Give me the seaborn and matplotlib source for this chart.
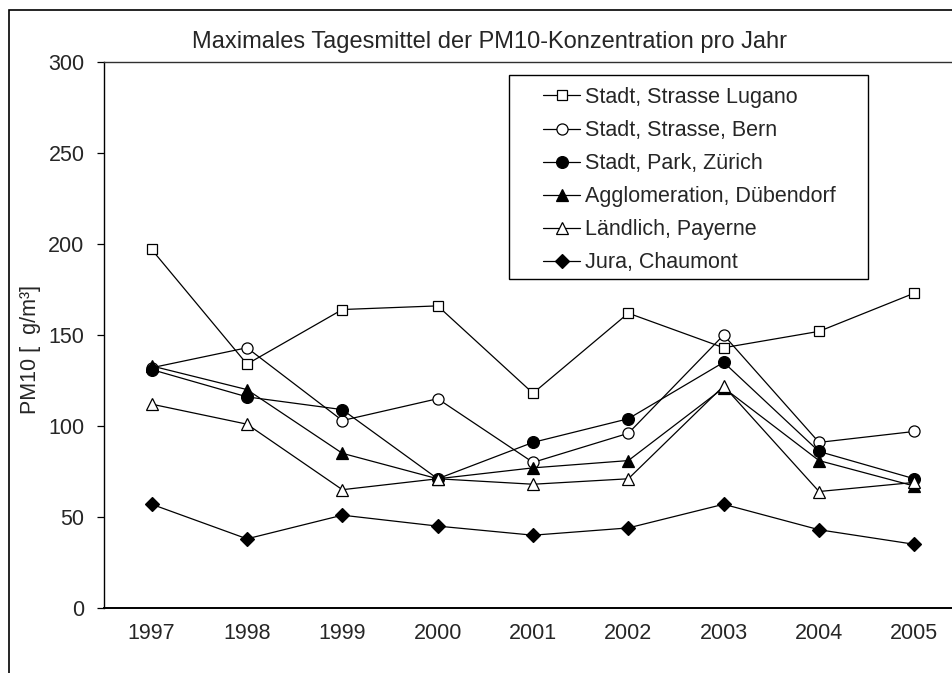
import matplotlib
matplotlib.use("Agg")
import matplotlib.pyplot as plt
import seaborn as sns
import pandas as pd
from matplotlib.patches import Rectangle

years = ["1997", "1998", "1999", "2000", "2001", "2002", "2003", "2004", "2005"]
lugano = [197, 134, 164, 166, 118, 162, 143, 152, 173]
bern = [132, 143, 103, 115, 80, 96, 150, 91, 97]
zuerich = [131, 116, 109, 71, 91, 104, 135, 86, 71]
duebendorf = [133, 120, 85, 71, 77, 81, 121, 81, 67]
payerne = [112, 101, 65, 71, 68, 71, 122, 64, 69]
chaumont = [57, 38, 51, 45, 40, 44, 57, 43, 35]

series_names = ["Stadt, Strasse Lugano", "Stadt, Strasse, Bern", "Stadt, Park, Zürich",
                "Agglomeration, Dübendorf", "Ländlich, Payerne", "Jura, Chaumont"]
series_values = [lugano, bern, zuerich, duebendorf, payerne, chaumont]
yticks = [0, 50, 100, 150, 200, 250, 300]

title = "Maximales Tagesmittel der PM10-Konzentration pro Jahr"
ylabel = "PM10 [  g/m³]"

styles = [
    dict(marker="s", markerfacecolor="white", markersize=7.5),
    dict(marker="o", markerfacecolor="white", markersize=8),
    dict(marker="o", markerfacecolor="black", markersize=8.5),
    dict(marker="^", markerfacecolor="black", markersize=8.5),
    dict(marker="^", markerfacecolor="white", markersize=8.5),
    dict(marker="D", markerfacecolor="black", markersize=7),
]

sns.set_style("white")
plt.rcParams["font.family"] = ["Liberation Sans", "DejaVu Sans"]
FS = 15.5
TFS = 17

W, H = 952, 673
fig = plt.figure(figsize=(W / 100, H / 100), dpi=100)
left, right, top, bottom = 104, 962, 62, 608
ax = fig.add_axes([left / W, 1 - bottom / H, (right - left) / W, (bottom - top) / H])

frames = []
for name, vals in zip(series_names, series_values):
    frames.append(pd.DataFrame({"Jahr": years, "PM10": vals, "Station": name}))
df = pd.concat(frames, ignore_index=True)

for name, st in zip(series_names, styles):
    sub = df[df["Station"] == name]
    sns.lineplot(data=sub, x="Jahr", y="PM10", ax=ax, color="black", linewidth=0.9,
                 markeredgecolor="black", markeredgewidth=0.9, label=name, **st)

ax.set_xlim(-0.5, len(years) - 0.5)
ax.set_ylim(0, 300)
ax.set_yticks(yticks)
ax.set_yticklabels([str(v) for v in yticks], fontsize=FS)
ax.set_xticks(range(len(years)))
ax.set_xticklabels(years, fontsize=FS)
ax.set_xticks([i - 0.5 for i in range(len(years) + 1)], minor=True)
ax.tick_params(axis="x", which="major", length=0, pad=11)
ax.tick_params(axis="x", which="minor", length=5, width=0.9, color="black", direction="out")
ax.tick_params(axis="y", which="major", length=5, width=0.9, color="black", direction="out", pad=9, left=True)
ax.set_xlabel("")
ax.set_ylabel(ylabel, fontsize=FS)
ax.yaxis.set_label_coords((41 - left) / (right - left), 1 - (350 - top) / (bottom - top))

for s in ["left", "bottom"]:
    ax.spines[s].set_color("black")
    ax.spines[s].set_linewidth(1.0)
ax.spines["bottom"].set_linewidth(1.4)
ax.spines["top"].set_color("#303030")
ax.spines["top"].set_linewidth(1.0)
ax.spines["right"].set_color("#303030")
ax.grid(False)

fig.text(490 / W, 1 - 42 / H, title, ha="center", va="center", fontsize=TFS)

fig.patches.append(Rectangle((9 / W, -0.1), 2, 1 - 10 / H + 0.1, transform=fig.transFigure,
                             fill=False, edgecolor="black", linewidth=1.2))

# legend box
box = Rectangle((509 / W, 1 - 279 / H), (868 - 509) / W, (279 - 75) / H,
                transform=fig.transFigure, fill=True, facecolor="white",
                edgecolor="black", linewidth=1.0, zorder=4, clip_on=False)
ax.add_patch(box)
leg = ax.legend(loc="upper left", bbox_to_anchor=(543 / W, 1 - 87 / H),
                bbox_transform=fig.transFigure, fontsize=FS, frameon=False,
                handlelength=1.72, handletextpad=0.23,
                labelspacing=0.56, borderpad=0, borderaxespad=0)
leg.set_zorder(10)

fig.savefig("out.png", dpi=100)
